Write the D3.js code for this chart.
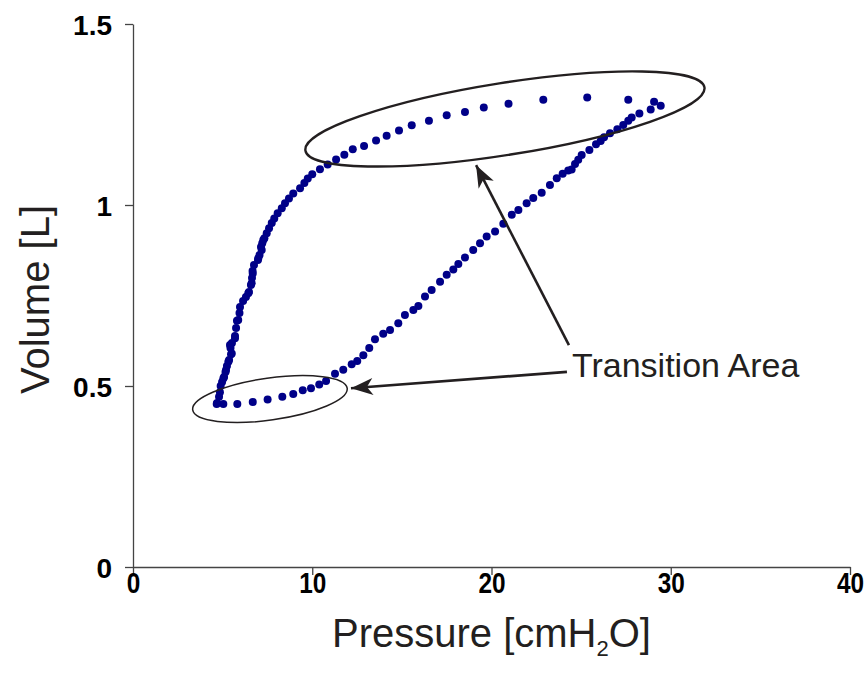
<!DOCTYPE html>
<html>
<head>
<meta charset="utf-8">
<script src="https://cdn.jsdelivr.net/npm/d3@7/dist/d3.min.js"></script>
<style>
  body { margin: 0; background: #fff; }
  text { font-family: "Liberation Sans", Arial, sans-serif; }
</style>
</head>
<body>
<svg id="chart" width="867" height="678"></svg>
<script>
// inflation limb: [pressure cmH2O, volume L]
const inflation = [
  [4.67,0.450],[5.04,0.450],[5.82,0.450],[6.68,0.456],[7.51,0.463],[8.33,0.470],
  [8.94,0.478],[9.47,0.488],[9.93,0.494],[10.39,0.504],[10.77,0.514],[11.27,0.534],
  [11.73,0.545],[12.20,0.560],[12.51,0.569],[12.85,0.585],[13.18,0.605],[13.50,0.629],
  [13.96,0.644],[14.34,0.655],[14.80,0.673],[15.17,0.696],[15.64,0.710],[15.92,0.721],
  [16.29,0.747],[16.66,0.765],[17.13,0.788],[17.50,0.807],[17.87,0.822],[18.15,0.837],
  [18.52,0.855],[18.98,0.876],[19.36,0.894],[19.73,0.913],[20.20,0.927],[20.66,0.948],
  [21.13,0.973],[21.50,0.986],[21.96,1.005],[22.33,1.019],[22.80,1.034],[23.26,1.055],
  [23.64,1.074],[23.97,1.086],[24.28,1.095],[24.47,1.098],[24.66,1.113],[24.84,1.125],
  [25.03,1.138],[25.46,1.152],[25.83,1.168],[26.09,1.177],[26.28,1.187],[26.61,1.198],
  [27.02,1.209],[27.35,1.221],[27.63,1.233],[27.82,1.242],[28.25,1.253],[28.88,1.264],
  [29.44,1.274]
];

// deflation limb
const deflation = [
  [29.07,1.285],[27.63,1.291],[25.34,1.297],[22.89,1.291],[20.95,1.280],[19.57,1.269],
  [18.52,1.257],[17.50,1.248],[16.51,1.233],[15.55,1.220],[14.84,1.206],[14.15,1.191],
  [13.56,1.178],[12.89,1.163],[12.26,1.154],[11.79,1.139],[11.33,1.126],[10.86,1.112],
  [10.43,1.099],[10.00,1.085],[9.75,1.073],[9.56,1.061],[9.32,1.046],[8.94,1.032],
  [8.70,1.018],[8.48,1.005],[8.30,0.991],[8.07,0.977],[7.88,0.963],[7.74,0.950],
  [7.59,0.936],[7.46,0.922],[7.33,0.908],[7.27,0.903],[7.21,0.894],[7.14,0.884],
  [7.18,0.876],[7.06,0.862],[6.99,0.853],[6.97,0.848],[6.75,0.834],[6.68,0.811],
  [6.67,0.818],[6.64,0.798],[6.62,0.784],[6.58,0.779],[6.47,0.760],[6.43,0.756],
  [6.30,0.746],[6.14,0.735],[5.97,0.718],[5.94,0.702],[5.87,0.682],[5.80,0.680],
  [5.75,0.660],[5.69,0.638],[5.69,0.632],[5.52,0.619],[5.41,0.613],[5.44,0.605],
  [5.47,0.588],[5.51,0.590],[5.36,0.572],[5.32,0.567],[5.24,0.555],[5.19,0.544],
  [5.16,0.539],[5.08,0.525],[5.04,0.521],[4.97,0.511],[4.89,0.500],[4.85,0.483],
  [4.80,0.470],[4.69,0.453]
];

const xTicks = [0, 10, 20, 30, 40];
const yTicks = [0, 0.5, 1, 1.5];

const svg = d3.select("#chart");
const x = d3.scaleLinear().domain([0, 40]).range([133, 850]);
const y = d3.scaleLinear().domain([0, 1.5]).range([567, 24]);

// axes
const xAxis = svg.append("g")
  .attr("transform", `translate(0,${y(0)})`)
  .call(d3.axisBottom(x).tickValues(xTicks).tickSize(8).tickSizeOuter(0).tickFormat(d => d));
const yAxis = svg.append("g")
  .attr("transform", `translate(${x(0)},0)`)
  .call(d3.axisLeft(y).tickValues(yTicks).tickSize(8).tickSizeOuter(0).tickFormat(d => d));

[xAxis, yAxis].forEach(g => {
  g.select(".domain").attr("stroke", "#444").attr("stroke-width", 1.3);
  g.selectAll(".tick line").attr("stroke", "#444").attr("stroke-width", 1.3);
  g.selectAll(".tick text").attr("fill", "#000").attr("font-weight", "bold")
    .attr("font-family", "Liberation Sans, Arial, sans-serif");
});
// x labels are a bit narrower in the original
xAxis.selectAll(".tick text")
  .attr("font-size", 29).attr("dy", 0).attr("y", 26).attr("x", 0)
  .attr("transform", "scale(0.84,1)");
yAxis.selectAll(".tick text").attr("font-size", 28).attr("x", -21).attr("dy", "0.36em");

// axis titles
svg.append("text")
  .attr("transform", `translate(49,${(y(0) + y(1.5)) / 2 + 4}) rotate(-90)`)
  .attr("text-anchor", "middle")
  .attr("font-size", 40)
  .attr("fill", "#231f20")
  .text("Volume [L]");

const xt = svg.append("text")
  .attr("x", (x(0) + x(40)) / 2)
  .attr("y", 647)
  .attr("text-anchor", "middle")
  .attr("font-size", 40)
  .attr("fill", "#231f20");
xt.append("tspan").text("Pressure [cmH");
xt.append("tspan").attr("font-size", 22).attr("dy", 9).text("2");
xt.append("tspan").attr("dy", -9).text("O]");

// data points
const dots = svg.append("g").attr("fill", "#000088");
dots.selectAll("circle.inf")
  .data(inflation)
  .enter().append("circle")
  .attr("class", "inf")
  .attr("cx", d => x(d[0]))
  .attr("cy", d => y(d[1]))
  .attr("r", 4);
dots.selectAll("circle.def")
  .data(deflation)
  .enter().append("circle")
  .attr("class", "def")
  .attr("cx", d => x(d[0]))
  .attr("cy", d => y(d[1]))
  .attr("r", 4);

// annotation: ellipses round the transition areas
const rings = [
  {cx: 20.75, cy: 1.2376, rx: 202, ry: 36, rot: -9, w: 2.4},
  {cx: 7.64, cy: 0.464, rx: 78, ry: 21, rot: -8, w: 1.5}
];
svg.selectAll("ellipse")
  .data(rings)
  .enter().append("ellipse")
  .attr("transform", d => `translate(${x(d.cx)},${y(d.cy)}) rotate(${d.rot})`)
  .attr("rx", d => d.rx)
  .attr("ry", d => d.ry)
  .attr("fill", "none")
  .attr("stroke", "#231f20")
  .attr("stroke-width", d => d.w);

// arrows
svg.append("defs").append("marker")
  .attr("id", "head")
  .attr("markerUnits", "userSpaceOnUse")
  .attr("viewBox", "-24 -10 26 20")
  .attr("refX", 0).attr("refY", 0)
  .attr("markerWidth", 26).attr("markerHeight", 20)
  .attr("orient", "auto")
  .append("path")
  .attr("d", "M0,0 L-22,-8.5 L-16,0 L-22,8.5 Z")
  .attr("fill", "#231f20");

const arrows = [
  {from: [24.32, 0.613], to: [19.14, 1.110]},
  {from: [24.21, 0.539], to: [12.16, 0.494]}
];
svg.selectAll("line.arrow")
  .data(arrows)
  .enter().append("line")
  .attr("class", "arrow")
  .attr("x1", d => x(d.from[0])).attr("y1", d => y(d.from[1]))
  .attr("x2", d => x(d.to[0])).attr("y2", d => y(d.to[1]))
  .attr("stroke", "#231f20")
  .attr("stroke-width", 2.6)
  .attr("marker-end", "url(#head)");

svg.append("text")
  .attr("x", x(24.49))
  .attr("y", y(0.525))
  .attr("font-size", 34)
  .attr("fill", "#231f20")
  .text("Transition Area");
</script>
</body>
</html>
